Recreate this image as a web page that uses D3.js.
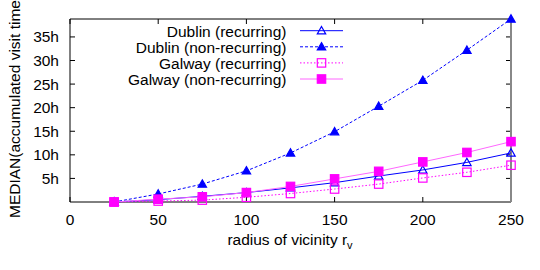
<!DOCTYPE html>
<html>
<head>
<meta charset="utf-8">
<script src="https://cdn.jsdelivr.net/npm/d3@7"></script>
<style>
  body { margin: 0; background: #fff; }
  svg { display: block; font-family: "Liberation Sans", Arial, sans-serif; }
</style>
</head>
<body>
<svg id="chart" width="540" height="270"></svg>
<script>
// radius of vicinity vs median accumulated visit time (hours)
const radii = [25, 50, 75, 100, 125, 150, 175, 200, 225, 250];
const dublinRec    = [0, 0.5, 1.2, 2.0, 3.0, 4.1, 5.5, 6.8, 8.4, 10.4];
const dublinNonRec = [0, 1.7, 3.8, 6.6, 10.4, 14.9, 20.3, 25.8, 32.2, 38.8];
const galwayRec    = [0, 0.2, 0.4, 1.0, 1.8, 2.75, 3.8, 5.1, 6.3, 7.8];
const galwayNonRec = [0, 0.6, 1.1, 2.0, 3.3, 4.9, 6.5, 8.5, 10.5, 12.8];
const xTicks = [0, 50, 100, 150, 200, 250];
const yTicks = [5, 10, 15, 20, 25, 30, 35];

const series = [
  { name: "Dublin (recurring)", values: dublinRec, color: "#0000ff", dash: null, marker: "triOpen" },
  { name: "Dublin (non-recurring)", values: dublinNonRec, color: "#0000ff", dash: "3 2", marker: "triFill" },
  { name: "Galway (recurring)", values: galwayRec, color: "#ff00ff", dash: "1.5 2", marker: "sqOpen" },
  { name: "Galway (non-recurring)", values: galwayNonRec, color: "#ff66ff", dash: null, marker: "sqFill" }
];

const svg = d3.select("#chart");
const L = 70, R = 511, T = 19, B = 202;
const fs = 15.5;

const x = d3.scaleLinear().domain([0, 250]).range([L, R]);
const y = d3.scaleLinear().domain([0, 38.8]).range([B, T]);

// ticks (inward, mirrored)
const tk = 5;
xTicks.forEach(v => {
  svg.append("line").attr("x1", x(v)).attr("x2", x(v)).attr("y1", B).attr("y2", B - tk).attr("stroke", "#000");
  svg.append("line").attr("x1", x(v)).attr("x2", x(v)).attr("y1", T).attr("y2", T + tk).attr("stroke", "#000");
  svg.append("text").attr("x", x(v)).attr("y", 225).attr("text-anchor", "middle")
    .attr("font-size", fs).text(v);
});
yTicks.forEach(v => {
  svg.append("line").attr("x1", L).attr("x2", L + tk).attr("y1", y(v)).attr("y2", y(v)).attr("stroke", "#000");
  svg.append("line").attr("x1", R).attr("x2", R - tk).attr("y1", y(v)).attr("y2", y(v)).attr("stroke", "#000");
  svg.append("text").attr("x", 59).attr("y", y(v) + 5.5).attr("text-anchor", "end")
    .attr("font-size", fs).text(v + "h");
});

// border
svg.append("path").attr("d", `M${R},${T}H${L}V${B}H${R}`).attr("fill", "none").attr("stroke", "#000");
svg.append("line").attr("x1", R).attr("x2", R).attr("y1", T).attr("y2", B)
  .attr("stroke", "#888").attr("stroke-width", 2);

// axis labels
svg.append("text").attr("transform", "translate(20,218) rotate(-90)")
  .attr("text-anchor", "start").attr("font-size", fs)
  .text("MEDIAN(accumulated visit time)");
const xl = svg.append("text").attr("x", 290).attr("y", 245).attr("text-anchor", "middle").attr("font-size", fs);
xl.append("tspan").text("radius of vicinity r");
xl.append("tspan").attr("font-size", 11).attr("dy", 4).text("v");

function drawMarker(g, kind, cx, cy, color) {
  const s = 4.2;
  if (kind.startsWith("tri")) {
    g.append("path")
      .attr("d", `M${cx},${cy - s}L${cx + s},${cy + s * 0.75}L${cx - s},${cy + s * 0.75}Z`)
      .attr("fill", kind === "triFill" ? color : "none")
      .attr("stroke", color).attr("stroke-width", 1.2);
  } else {
    g.append("rect").attr("x", cx - s).attr("y", cy - s).attr("width", 2 * s).attr("height", 2 * s)
      .attr("fill", kind === "sqFill" ? color : "none")
      .attr("stroke", color).attr("stroke-width", 1.2);
  }
}

const line = d3.line().x((d, i) => x(radii[i])).y(d => y(d));

series.forEach((s, si) => {
  const g = svg.append("g");
  g.append("path").datum(s.values).attr("d", line)
    .attr("fill", "none").attr("stroke", s.color).attr("stroke-width", 1)
    .attr("stroke-dasharray", s.dash);
  const mc = s.marker.startsWith("sq") ? "#ff00ff" : "#0000ff";
  s.values.forEach((v, i) => drawMarker(g, s.marker, x(radii[i]), y(v), mc));

  // legend
  const ly = 30.7 + si * 16.1;
  svg.append("text").attr("x", 286.5).attr("y", ly + 6).attr("text-anchor", "end")
    .attr("font-size", fs).text(s.name);
  svg.append("line").attr("x1", 300).attr("x2", 343).attr("y1", ly).attr("y2", ly)
    .attr("stroke", s.color).attr("stroke-width", 1).attr("stroke-dasharray", s.dash);
  drawMarker(svg.append("g"), s.marker, 321.5, ly, mc);
});
</script>
</body>
</html>
